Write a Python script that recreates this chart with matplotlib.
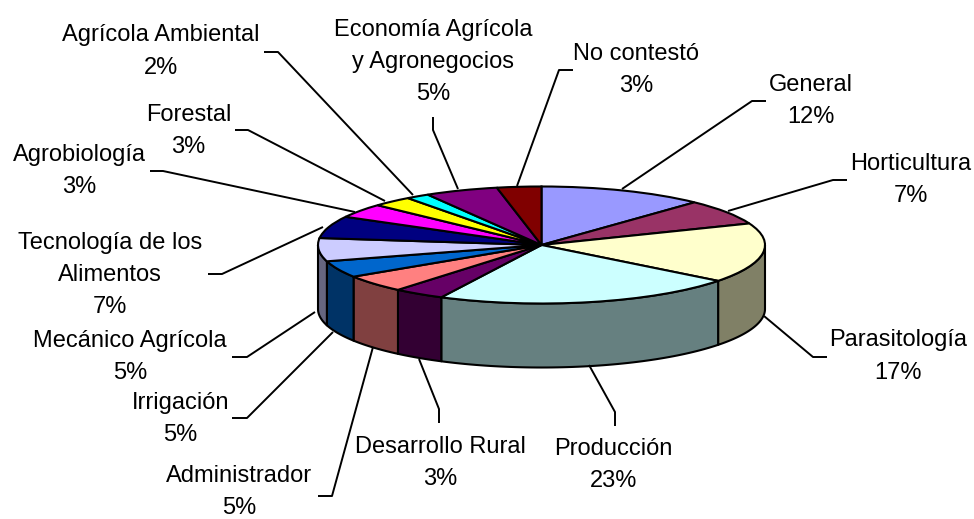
import numpy as np
import matplotlib
matplotlib.use('Agg')
import matplotlib.pyplot as plt
from matplotlib.colors import to_rgb

plt.rcParams['font.family'] = ['Liberation Sans', 'DejaVu Sans']

# slices clockwise from the top
names = ['General', 'Horticultura', 'Parasitología', 'Producción', 'Desarrollo Rural',
         'Administrador', 'Irrigación', 'Mecánico Agrícola', 'Tecnología de los\nAlimentos',
         'Agrobiología', 'Forestal', 'Agrícola Ambiental', 'Economía Agrícola\ny Agronegocios',
         'No contestó']
percent_labels = [12, 7, 17, 23, 3, 5, 5, 5, 7, 3, 3, 2, 5, 3]
# slice sizes as drawn in the picture (the printed percents are rounded)
shares = [12.0, 7.0, 16.5, 21.9, 3.7, 4.8, 4.6, 6.4, 6.1, 3.9, 2.9, 1.7, 5.3, 3.2]
slice_colors = ['#9999FF', '#993366', '#FFFFCC', '#CCFFFF', '#660066', '#FF8080', '#0066CC',
                '#CCCCFF', '#000080', '#FF00FF', '#FFFF00', '#00FFFF', '#800080', '#800000']

W, H = 974, 519
cx, cy = 541.5, 245.0
rx, ry = 223.5, 58.5
depth = 64.0

# text centre and leader path in pixels, y down
label_pos = [(811, 101), (911, 180), (898, 356.5), (613.5, 465), (440, 463), (239, 492), (180.5, 419),
             (130, 357), (110, 275), (79, 171), (188.5, 131), (161, 51.5), (433, 62), (636, 70)]
leaders = [
    [(766, 101), (752, 101), (622, 189)],
    [(847, 180), (833, 180), (728, 211)],
    [(764, 316), (813, 357), (827, 357)],
    [(589, 365), (615, 412), (615, 426)],
    [(419, 359), (439, 409), (439, 423)],
    [(373, 347), (332, 496), (318, 496)],
    [(333, 332), (247, 418), (232, 418)],
    [(315, 312), (247, 357), (232, 357)],
    [(323, 227), (222, 274), (208, 274)],
    [(355, 212), (163, 171), (150, 171)],
    [(385, 201), (248, 130), (235, 130)],
    [(413, 195), (278, 52), (264, 52)],
    [(458, 189), (433, 130), (433, 117)],
    [(517, 186), (559, 70), (573, 70)],
]


def to_data(x, y):
    return (x - cx) / rx, (cy - y) / ry


fig = plt.figure(figsize=(W / 100, H / 100), dpi=100)
ax = fig.add_axes([0, 0, 1, 1])

# side walls, only the part facing the viewer (90 to 270 deg clockwise from the top)
edges = np.cumsum([0] + shares) / sum(shares) * 360
d = depth / ry
for i in range(len(shares)):
    a0, a1 = max(edges[i], 90), min(edges[i + 1], 270)
    if a1 <= a0:
        continue
    t = np.radians(np.linspace(a0, a1, 60))
    xs = np.r_[np.sin(t), np.sin(t[::-1])]
    ys = np.r_[np.cos(t) - d, np.cos(t[::-1])]
    dark = tuple(c * 0.5 for c in to_rgb(slice_colors[i]))
    ax.fill(xs, ys, facecolor=dark, edgecolor='black', linewidth=1.5, joinstyle='round', zorder=1)

# top face
ax.pie(shares, colors=slice_colors, startangle=90, counterclock=False, radius=1, center=(0, 0),
       wedgeprops={'edgecolor': 'black', 'linewidth': 1.5, 'zorder': 2})

ax.set_aspect('auto')
ax.set_xlim(-cx / rx, (W - cx) / rx)
ax.set_ylim((cy - H) / ry, cy / ry)
ax.axis('off')

for i in range(len(names)):
    pts = np.array([to_data(*p) for p in leaders[i]])
    ax.plot(pts[:, 0], pts[:, 1], color='black', lw=1.4, zorder=3, solid_capstyle='butt')
    tx, ty = to_data(*label_pos[i])
    ax.text(tx, ty, '%s\n%d%%' % (names[i], percent_labels[i]), ha='center', va='center',
            fontsize=17, linespacing=1.6, color='black', zorder=4, clip_on=False)

fig.savefig('out.png', dpi=100, facecolor='white')
